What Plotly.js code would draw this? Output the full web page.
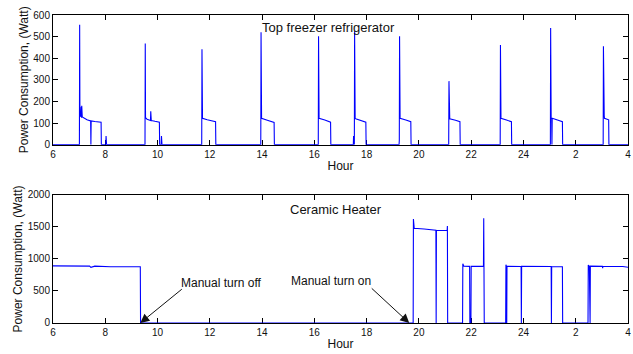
<!DOCTYPE html>
<html>
<head>
<meta charset="utf-8">
<script src="https://cdn.plot.ly/plotly-3.0.1.min.js"></script>
<style>html,body{margin:0;padding:0;background:#fff;}#chart{width:633px;height:354px;}</style>
</head>
<body>
<div id="chart"></div>
<script>
// Hours run 6 .. 28 (24 -> 0 -> 2 -> 4 next day)
var tickHours = [6, 8, 10, 12, 14, 16, 18, 20, 22, 24, 26, 28];
var tickLabels = ['6', '8', '10', '12', '14', '16', '18', '20', '22', '24', '2', '4'];

// Top freezer refrigerator (Watt)
var fridgeHour = [
  6, 7.01, 7.02, 7.03, 7.06, 7.08, 7.09, 7.10, 7.12, 7.2, 7.3, 7.44, 7.45, 7.46, 7.6, 7.84, 7.85, 8.02, 8.03, 8.05,
  9.52, 9.53, 9.54, 9.6, 9.73, 9.74, 9.76, 9.9, 10.07, 10.08, 10.14, 10.15, 10.17,
  11.69, 11.70, 11.71, 11.72, 11.9, 12.1, 12.22, 12.23,
  13.95, 13.96, 13.97, 13.98, 14.2, 14.46, 14.47,
  16.15, 16.16, 16.17, 16.18, 16.4, 16.62, 16.63,
  17.49, 17.50, 17.51, 17.53, 17.54, 17.55, 17.56, 17.58, 17.8, 17.97, 17.98,
  19.24, 19.25, 19.26, 19.27, 19.28, 19.5, 19.69, 19.70,
  21.14, 21.15, 21.16, 21.17, 21.18, 21.4, 21.57, 21.58,
  23.11, 23.12, 23.13, 23.14, 23.35, 23.54, 23.55,
  25.03, 25.04, 25.05, 25.06, 25.08, 25.09, 25.10, 25.3, 25.49, 25.50,
  27.05, 27.06, 27.07, 27.09, 27.10, 27.26, 27.27, 28
];
var fridgeWatt = [
  0, 0, 555, 135, 130, 175, 125, 180, 128, 122, 115, 110, 0, 110, 107, 104, 0, 0, 40, 0,
  0, 468, 125, 118, 112, 155, 112, 108, 104, 0, 0, 40, 0,
  0, 442, 150, 122, 115, 110, 106, 0,
  0, 520, 140, 122, 113, 103, 0,
  0, 502, 140, 122, 114, 104, 0,
  0, 40, 0, 0, 525, 145, 122, 120, 113, 104, 0,
  0, 20, 502, 130, 122, 114, 106, 0,
  0, 294, 150, 125, 120, 113, 106, 0,
  0, 461, 128, 122, 114, 106, 0,
  0, 540, 150, 125, 120, 0, 122, 114, 106, 0,
  0, 455, 138, 134, 122, 115, 0, 0
];

// Ceramic heater (Watt)
var heaterHour = [
  6, 6.8, 7.4, 7.45, 7.6, 8.2, 8.8, 9.34, 9.35,
  19.78, 19.79, 19.82, 20.2, 20.65, 20.66, 20.67, 21.08, 21.09, 21.10,
  21.67, 21.68, 21.72, 21.94, 21.95, 21.99, 22.0, 22.47, 22.48, 22.50,
  23.32, 23.33, 23.35, 23.36, 23.37, 23.91, 23.92, 23.93, 25.06, 25.07, 25.08, 25.49, 25.50,
  26.47, 26.48, 26.52, 26.55, 26.56, 27.02, 27.03, 27.04, 27.8, 28
];
var heaterWatt = [
  892, 890, 888, 870, 888, 880, 882, 878, 0,
  0, 1625, 1480, 1468, 1450, 0, 1450, 1445, 1515, 0,
  0, 925, 888, 885, 0, 0, 885, 885, 1635, 0,
  0, 910, 885, 0, 885, 884, 0, 884, 882, 0, 882, 878, 0,
  0, 905, 888, 0, 888, 885, 855, 885, 882, 870
];

var blue = '#0000ff';
var traces = [
  {x: fridgeHour, y: fridgeWatt, type: 'scatter', mode: 'lines', xaxis: 'x', yaxis: 'y',
   line: {color: blue, width: 1.1}, hoverinfo: 'skip'},
  {x: heaterHour, y: heaterWatt, type: 'scatter', mode: 'lines', xaxis: 'x2', yaxis: 'y2',
   line: {color: blue, width: 1.1}, hoverinfo: 'skip'}
];

var fontFam = 'Liberation Sans, Arial, sans-serif';
function xAx(anchor) {
  return {
    anchor: anchor, domain: [0, 1], range: [6, 28],
    tickmode: 'array', tickvals: tickHours, ticktext: tickLabels,
    ticks: 'inside', ticklen: 5, tickwidth: 1, tickcolor: '#000',
    showline: true, linecolor: '#000', linewidth: 1, mirror: 'ticks',
    showgrid: false, zeroline: false, layer: 'below traces',
    tickfont: {family: fontFam, size: 10, color: '#111'},
    title: {text: 'Hour', font: {family: fontFam, size: 12, color: '#111'}, standoff: 2}
  };
}
function yAx(anchor, dom, rng, vals, stand) {
  return {
    anchor: anchor, domain: dom, range: rng,
    tickmode: 'array', tickvals: vals,
    ticks: 'inside', ticklen: 5, tickwidth: 1, tickcolor: '#000',
    showline: true, linecolor: '#000', linewidth: 1, mirror: 'ticks',
    showgrid: false, zeroline: false, layer: 'below traces',
    tickfont: {family: fontFam, size: 10, color: '#111'},
    title: {text: 'Power Consumption, (Watt)', font: {family: fontFam, size: 12, color: '#111'}, standoff: stand}
  };
}

var layout = {
  width: 633, height: 354,
  margin: {l: 53, r: 5, t: 15, b: 31},
  paper_bgcolor: '#fff', plot_bgcolor: '#fff',
  showlegend: false,
  xaxis: xAx('y'),
  yaxis: yAx('x', [0.579, 1], [0, 600], [0, 100, 200, 300, 400, 500, 600], 2),
  xaxis2: xAx('y2'),
  yaxis2: yAx('x2', [0, 0.4156], [0, 2000], [0, 500, 1000, 1500, 2000], 2),
  annotations: [
    {xref: 'x domain', yref: 'y domain', x: 0.479, y: 0.905, xanchor: 'center', yanchor: 'middle',
     text: 'Top freezer refrigerator', showarrow: false, font: {family: fontFam, size: 13, color: '#111'}},
    {xref: 'x2 domain', yref: 'y2 domain', x: 0.492, y: 0.889, xanchor: 'center', yanchor: 'middle',
     text: 'Ceramic Heater', showarrow: false, font: {family: fontFam, size: 13, color: '#111'}},
    {xref: 'x2', yref: 'y2', x: 9.34, y: 0, text: '', showarrow: true,
     ax: 43, ay: -35, arrowhead: 2, arrowsize: 1.8, arrowwidth: 1, arrowcolor: '#111'},
    {xref: 'x2', yref: 'y2', x: 9.34, y: 0, text: 'Manual turn off', showarrow: true,
     arrowcolor: 'rgba(0,0,0,0)', ax: 81, ay: -40, font: {family: fontFam, size: 12, color: '#111'}},
    {xref: 'x2', yref: 'y2', x: 19.63, y: 0, text: '', showarrow: true,
     ax: -39, ay: -36, arrowhead: 2, arrowsize: 1.8, arrowwidth: 1, arrowcolor: '#111'},
    {xref: 'x2', yref: 'y2', x: 19.63, y: 0, text: 'Manual turn on', showarrow: true,
     arrowcolor: 'rgba(0,0,0,0)', ax: -78, ay: -42, font: {family: fontFam, size: 12, color: '#111'}}
  ]
};

Plotly.newPlot('chart', traces, layout, {staticPlot: true, displayModeBar: false});
</script>
</body>
</html>
